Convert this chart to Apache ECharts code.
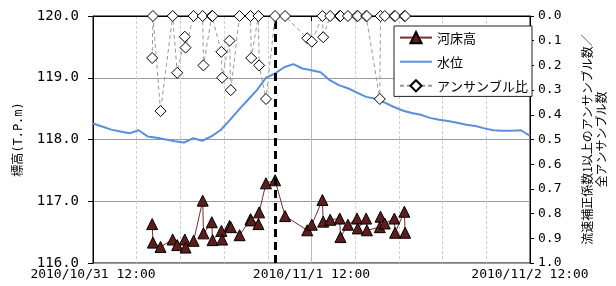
<!DOCTYPE html>
<html>
<head>
<meta charset="utf-8">
<script src="https://cdn.jsdelivr.net/npm/echarts@6/dist/echarts.min.js"></script>
<style>html,body{margin:0;padding:0;background:#fff;}#c{width:616px;height:286px;}</style>
</head>
<body>
<div id="c"></div>
<script>
// ---- data ----
const startTime = '2010-10-31 12:00';
const xTickLabels = ['2010/10/31 12:00', '2010/11/1 12:00', '2010/11/2 12:00'];
const leftTicks = [116, 117, 118, 119, 120];
const rightTicks = [0, 0.1, 0.2, 0.3, 0.4, 0.5, 0.6, 0.7, 0.8, 0.9, 1.0];
const seriesNames = ['河床高', '水位', 'アンサンブル比'];
const peakTime = '2010-11-01 08:00';

const waterTimes = [
  '2010-10-31 12:00','2010-10-31 13:00','2010-10-31 14:00','2010-10-31 15:00','2010-10-31 16:00',
  '2010-10-31 17:00','2010-10-31 18:00','2010-10-31 19:00','2010-10-31 20:00','2010-10-31 21:00',
  '2010-10-31 22:00','2010-10-31 23:00','2010-11-01 00:00','2010-11-01 01:00','2010-11-01 02:00',
  '2010-11-01 03:00','2010-11-01 04:00','2010-11-01 05:00','2010-11-01 06:00','2010-11-01 07:00',
  '2010-11-01 08:00','2010-11-01 09:00','2010-11-01 10:00','2010-11-01 11:00','2010-11-01 12:00',
  '2010-11-01 13:00','2010-11-01 14:00','2010-11-01 15:00','2010-11-01 16:00','2010-11-01 17:00',
  '2010-11-01 18:00','2010-11-01 19:00','2010-11-01 20:00','2010-11-01 21:00','2010-11-01 22:00',
  '2010-11-01 23:00','2010-11-02 00:00','2010-11-02 01:00','2010-11-02 02:00','2010-11-02 03:00',
  '2010-11-02 04:00','2010-11-02 05:00','2010-11-02 06:00','2010-11-02 07:00','2010-11-02 08:00',
  '2010-11-02 09:00','2010-11-02 10:00','2010-11-02 11:00','2010-11-02 12:00'
];
const waterLevel = [
  118.26,118.21,118.16,118.13,118.10,118.15,118.05,118.03,118.00,117.97,
  117.95,118.02,117.98,118.05,118.15,118.31,118.48,118.64,118.80,119.00,
  119.07,119.17,119.22,119.15,119.12,119.09,118.96,118.88,118.83,118.76,
  118.69,118.66,118.60,118.53,118.47,118.43,118.40,118.35,118.32,118.30,
  118.27,118.24,118.22,118.18,118.15,118.14,118.14,118.15,118.06
];

const ensTimes = [
  '2010-10-31 18:30','2010-10-31 18:35','2010-10-31 19:25','2010-10-31 20:45','2010-10-31 21:15',
  '2010-10-31 22:05','2010-10-31 22:10','2010-10-31 23:03','2010-11-01 00:03','2010-11-01 00:08',
  '2010-11-01 01:03','2010-11-01 01:08','2010-11-01 02:06','2010-11-01 02:11','2010-11-01 03:00',
  '2010-11-01 03:08','2010-11-01 04:06','2010-11-01 05:18','2010-11-01 05:23','2010-11-01 06:10',
  '2010-11-01 06:15','2010-11-01 07:00','2010-11-01 08:00','2010-11-01 09:06','2010-11-01 11:32',
  '2010-11-01 12:02','2010-11-01 13:12','2010-11-01 13:17','2010-11-01 14:03','2010-11-01 15:06',
  '2010-11-01 15:11','2010-11-01 16:00','2010-11-01 17:00','2010-11-01 17:05','2010-11-01 18:00',
  '2010-11-01 18:05','2010-11-01 19:30','2010-11-01 19:35','2010-11-01 20:03','2010-11-01 21:06',
  '2010-11-01 21:11','2010-11-01 22:12','2010-11-01 22:17'
];
const bedHeight = [
  116.63,116.33,116.26,116.38,116.29,116.38,116.25,116.36,117.01,116.48,
  116.66,116.37,116.52,116.38,116.60,116.58,116.45,116.71,116.69,116.63,
  116.82,117.29,117.34,116.76,116.53,116.62,117.02,116.67,116.70,116.72,
  116.42,116.62,116.72,116.56,116.72,116.53,116.58,116.75,116.64,116.72,
  116.49,116.83,116.49
];
const ensembleRatio = [
  0.17,0,0.385,0,0.23,0.084,0.128,0,0,0.20,
  0,0,0.145,0.25,0.10,0.30,0,0,0.17,0,
  0.20,0.336,0,0,0.09,0.104,0,0.086,0,0,
  0,0,0,0,0,0,0.336,0,0,0,
  0,0,0
];

// ---- helpers ----
function toMs(s) {
  const m = s.match(/(\d+)-(\d+)-(\d+) (\d+):(\d+)/);
  return Date.UTC(+m[1], +m[2] - 1, +m[3], +m[4], +m[5]);
}
const t0 = toMs(startTime);
const toH = s => (toMs(s) - t0) / 3600000;

const waterData = waterTimes.map((t, i) => [toH(t), waterLevel[i]]);
const bedData = ensTimes.map((t, i) => [toH(t), bedHeight[i]]);
const ratioData = ensTimes.map((t, i) => [toH(t), ensembleRatio[i]]);

const monoFont = "'DejaVu Sans Mono', 'Noto Sans CJK JP', monospace";
const jpFont = "'Noto Sans CJK JP', sans-serif";

const chart = echarts.init(document.getElementById('c'), null, {renderer: 'canvas'});
chart.setOption({
  animation: false,
  backgroundColor: '#fff',
  grid: {left: 93, right: 83, top: 16, bottom: 23, show: true, borderColor: '#000', borderWidth: 1, containLabel: false},
  legend: {
    orient: 'vertical', left: 394, top: 26,
    padding: [5, 4, 4, 5], itemGap: 11, itemWidth: 32, itemHeight: 14,
    backgroundColor: '#fff', borderColor: '#222', borderWidth: 1,
    textStyle: {fontFamily: jpFont, fontSize: 13, color: '#000'},
    data: [
      {name: seriesNames[0]},
      {name: seriesNames[1], itemStyle: {opacity: 0}},
      {name: seriesNames[2]}
    ]
  },
  xAxis: {
    type: 'value', min: 0, max: 48, interval: 24,
    axisLine: {show: true, lineStyle: {color: '#000', width: 1}},
    axisTick: {show: true, inside: false, length: 5, lineStyle: {color: '#000'}},
    axisLabel: {
      fontFamily: monoFont, fontSize: 13, color: '#000', margin: 5,
      formatter: v => xTickLabels[Math.round(v / 24)] || ''
    },
    splitLine: {show: true, lineStyle: {color: '#bbb', width: 1}},
    minorTick: {show: false, splitNumber: 5},
    minorSplitLine: {show: true, lineStyle: {color: '#cfcfcf', width: 1, type: [3, 2]}}
  },
  yAxis: [
    {
      type: 'value', min: leftTicks[0], max: leftTicks[leftTicks.length - 1], interval: 1, position: 'left',
      name: '標高(T.P.m)', nameLocation: 'middle', nameRotate: 90, nameGap: 68,
      nameTextStyle: {fontFamily: monoFont, fontSize: 12, color: '#000'},
      axisLine: {show: true, lineStyle: {color: '#000'}},
      axisTick: {show: true, inside: false, length: 5, lineStyle: {color: '#000'}},
      axisLabel: {fontFamily: monoFont, fontSize: 14, color: '#000', margin: 14, formatter: v => v.toFixed(1)},
      splitLine: {show: true, lineStyle: {color: '#9a9a9a', width: 1}}
    },
    {
      type: 'value', min: rightTicks[0], max: rightTicks[rightTicks.length - 1], interval: 0.1, position: 'right', inverse: true,
      name: '流速補正係数1以上のアンサンブル数／\n全アンサンブル数', nameLocation: 'middle', nameRotate: 90, nameGap: 50,
      nameTextStyle: {fontFamily: jpFont, fontSize: 12, lineHeight: 14, color: '#000', align: 'center'},
      axisLine: {show: true, lineStyle: {color: '#000'}},
      axisTick: {show: true, inside: false, length: 4, lineStyle: {color: '#000'}},
      axisLabel: {fontFamily: monoFont, fontSize: 13, color: '#000', margin: 8, formatter: v => v.toFixed(1)},
      splitLine: {show: false}
    }
  ],
  series: [
    {
      name: seriesNames[0], type: 'line', yAxisIndex: 0, data: bedData, z: 4,
      symbol: 'triangle', symbolSize: 11, showSymbol: true,
      lineStyle: {color: '#7a2e2e', width: 1},
      itemStyle: {color: '#5e1c1c', borderColor: '#000', borderWidth: 1}
    },
    {
      name: seriesNames[1], type: 'line', yAxisIndex: 0, data: waterData, z: 3,
      symbol: 'none', showSymbol: false,
      lineStyle: {color: '#5b8fdb', width: 2},
      itemStyle: {color: '#5b8fdb'},
      markLine: {
        silent: true, symbol: 'none', label: {show: false},
        lineStyle: {color: '#000', width: 3, type: [8, 5]},
        data: [{xAxis: toH(peakTime)}]
      }
    },
    {
      name: seriesNames[2], type: 'line', yAxisIndex: 1, data: ratioData, z: 5,
      symbol: 'diamond', symbolSize: 11, showSymbol: true,
      lineStyle: {color: '#9a9a9a', width: 1, type: [4, 3]},
      itemStyle: {color: '#fff', borderColor: '#000', borderWidth: 1}
    }
  ]
});
</script>
</body>
</html>
